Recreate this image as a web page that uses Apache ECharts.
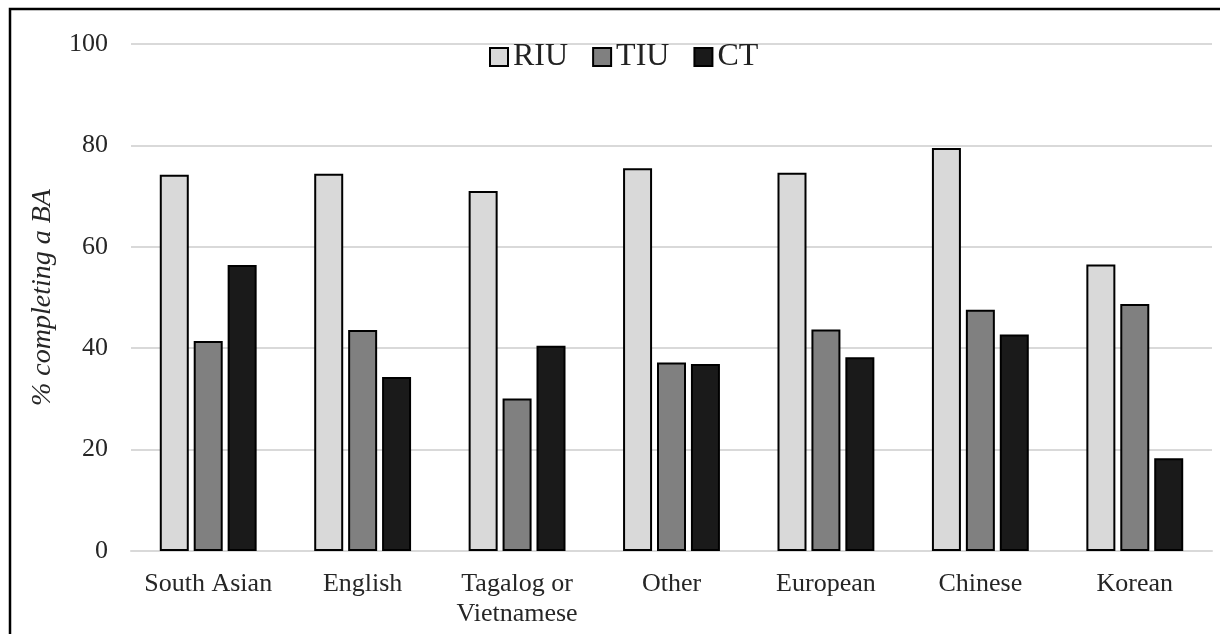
<!DOCTYPE html>
<html><head><meta charset="utf-8">
<script src="https://cdn.jsdelivr.net/npm/echarts@6/dist/echarts.min.js"></script>
<style>html,body{margin:0;padding:0;background:#fff}#c{width:1220px;height:634px}</style>
</head><body><div id="c"></div>
<script>
const categories = ['South Asian', 'English', 'Tagalog or\nVietnamese', 'Other', 'European', 'Chinese', 'Korean'];
const seriesNames = ['RIU', 'TIU', 'CT'];
const riu = [74.2, 74.4, 71.0, 75.5, 74.6, 79.5, 56.5];
const tiu = [41.4, 43.6, 30.1, 37.2, 43.7, 47.6, 48.7];
const ct = [56.4, 34.3, 40.5, 36.9, 38.2, 42.7, 18.3];
const yTicks = [0, 20, 40, 60, 80, 100];
const colors = ['#d9d9d9', '#808080', '#1a1a1a'];

const chart = echarts.init(document.getElementById('c'));
const font = '"Liberation Serif", "Times New Roman", serif';
const data = [riu, tiu, ct];
chart.setOption({
  animation: false,
  textStyle: {fontFamily: font},
  graphic: [{type: 'rect', shape: {x: 10, y: 9, width: 1230, height: 700}, style: {fill: 'none', stroke: '#000', lineWidth: 2.5}, silent: true}],
  legend: {
    top: 36, left: 484, itemWidth: 18, itemHeight: 18, itemGap: 24, icon: 'rect',
    textStyle: {fontFamily: font, fontSize: 32, color: '#222'},
    data: seriesNames
  },
  grid: {left: 131, right: 8, top: 44, bottom: 83},
  xAxis: {
    type: 'category', data: categories,
    axisLine: {lineStyle: {color: '#d9d9d9', width: 2}},
    axisTick: {show: false},
    axisLabel: {interval: 0, fontFamily: font, fontSize: 26, color: '#262626', margin: 18, lineHeight: 30}
  },
  yAxis: {
    type: 'value', min: 0, max: 100, interval: 20,
    name: '% completing a BA', nameLocation: 'middle', nameGap: 74,
    nameTextStyle: {fontFamily: font, fontSize: 28, fontStyle: 'italic', color: '#262626'},
    axisLine: {show: false}, axisTick: {show: false},
    axisLabel: {fontFamily: font, fontSize: 26, color: '#262626', margin: 23,
      formatter: v => yTicks.includes(v) ? String(v) : ''},
    splitLine: {lineStyle: {color: '#d9d9d9', width: 2}}
  },
  series: seriesNames.map((n, i) => ({
    name: n, type: 'bar', data: data[i],
    barWidth: 29, barGap: '17%',
    itemStyle: {color: colors[i], borderColor: '#000', borderWidth: 2}
  }))
});
</script></body></html>
